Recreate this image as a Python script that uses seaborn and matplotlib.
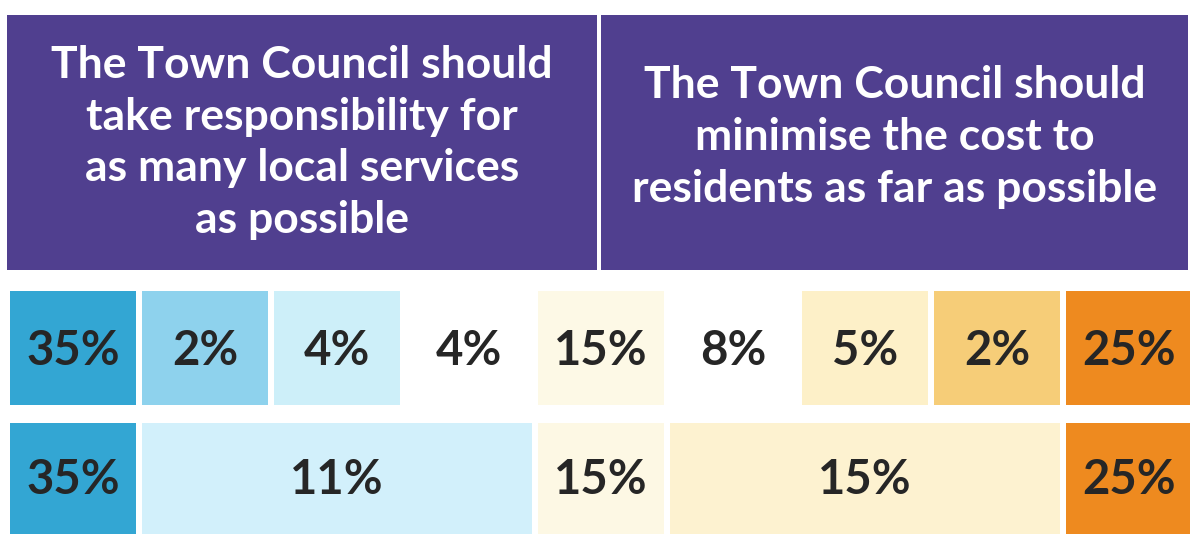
import matplotlib
matplotlib.use("Agg")
import matplotlib.pyplot as plt
from matplotlib.patches import Rectangle
import numpy as np
import pandas as pd
import seaborn as sns

# --- data -------------------------------------------------------------
statements = [
    "The Town Council should\ntake responsibility for\nas many local services\nas possible",
    "The Town Council should\nminimise the cost to\nresidents as far as possible",
]

# nine-point scale between the two statements
scale_points = ["L4", "L3", "L2", "L1", "Mid", "R1", "R2", "R3", "R4"]
detail_values = [35, 2, 4, 4, 15, 8, 5, 2, 25]
detail_colors = ["#33a6d3", "#8ed2ed", "#cdeff9", "#ffffff", "#fdf9e6",
                 "#ffffff", "#fdf0c8", "#f6cd78", "#ee8a1f"]

# grouped view: values and how many scale points each group covers
group_values = [35, 11, 15, 15, 25]
group_spans = [1, 3, 1, 3, 1]
group_colors = ["#33a6d3", "#d2f0fb", "#fdf8e4", "#fdf2d0", "#ee8a1f"]

# --- style ------------------------------------------------------------
sns.set_theme(style="white")
plt.rcParams["font.family"] = ["Lato", "DejaVu Sans"]

HEADER_COLOR = "#503f8f"
TEXT_DARK = "#262626"

fig = plt.figure(figsize=(11.9, 5.34), dpi=100)
ax = fig.add_axes([0, 0, 1, 1])

# one x unit per scale point, one y unit per row
PITCH = 132.0
X0_PX, Y0_PX = 7.0, 348.0
ax.set_xlim(-X0_PX / PITCH, (1190 - X0_PX) / PITCH)
ax.set_ylim((534 - Y0_PX) / PITCH, -Y0_PX / PITCH)
ax.axis("off")

gap = 0.05
bar_h = 0.87

# row 0: each scale point
df_detail = pd.DataFrame({"point": scale_points, "value": detail_values,
                          "color": detail_colors})
df_detail["left"] = np.arange(len(df_detail))
ax.barh(np.zeros(len(df_detail)), np.ones(len(df_detail)) - gap,
        left=df_detail["left"] + gap / 2, height=bar_h,
        color=df_detail["color"], linewidth=0)
for left, val in zip(df_detail["left"], df_detail["value"]):
    ax.text(left + 0.5, 0.02, f"{val}%", ha="center", va="center",
            fontsize=34, fontweight="bold", color=TEXT_DARK)

# row 1: grouped scale points
df_group = pd.DataFrame({"value": group_values, "span": group_spans,
                         "color": group_colors})
df_group["left"] = np.concatenate([[0], np.cumsum(group_spans)[:-1]])
ax.barh(np.ones(len(df_group)), df_group["span"] - gap,
        left=df_group["left"] + gap / 2, height=bar_h,
        color=df_group["color"], linewidth=0)
for left, span, val in zip(df_group["left"], df_group["span"], df_group["value"]):
    ax.text(left + span / 2, 1.0, f"{val}%", ha="center", va="center",
            fontsize=34, fontweight="bold", color=TEXT_DARK)

# statement headers above the scale
header_top = (15 - Y0_PX) / PITCH
header_bot = (270 - Y0_PX) / PITCH
header_spans = [(0.0, 4.47), (4.5, 8.95)]
header_offsets = [0.0, -0.04]
for (x0, x1), label, dy in zip(header_spans, statements, header_offsets):
    ax.add_patch(Rectangle((x0, header_top), x1 - x0, header_bot - header_top,
                           facecolor=HEADER_COLOR, edgecolor="none"))
    ax.text((x0 + x1) / 2, (header_top + header_bot) / 2 + dy, label,
            ha="center", va="center", fontsize=32, fontweight="bold",
            color="white", linespacing=1.36)

fig.savefig("out.png", dpi=100)
